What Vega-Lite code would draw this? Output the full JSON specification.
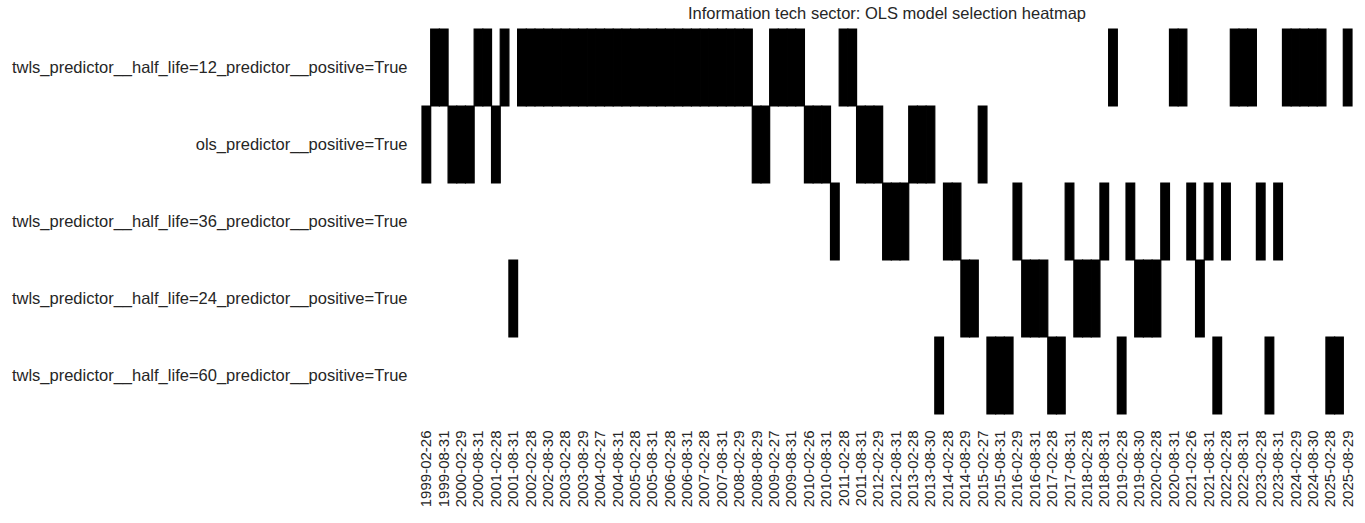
{
  "$schema": "https://vega.github.io/schema/vega-lite/v6.json",
  "autosize": "none",
  "padding": {"left": 422, "top": 29, "right": 13, "bottom": 109},
  "width": 930,
  "height": 385,
  "background": "white",
  "title": {
    "text": "Information tech sector: OLS model selection heatmap",
    "font": "Liberation Sans",
    "fontSize": 16.5,
    "fontWeight": "normal",
    "color": "#262626",
    "anchor": "middle",
    "offset": 6
  },
  "datasets": {
    "models": [
      {"m": "A", "model": "twls_predictor__half_life=12_predictor__positive=True"},
      {"m": "B", "model": "ols_predictor__positive=True"},
      {"m": "C", "model": "twls_predictor__half_life=36_predictor__positive=True"},
      {"m": "D", "model": "twls_predictor__half_life=24_predictor__positive=True"},
      {"m": "E", "model": "twls_predictor__half_life=60_predictor__positive=True"}
    ]
  },
  "data": {
    "values": [
      {"date": "1999-02-26", "m": "B"},
      {"date": "1999-05-31", "m": "A"},
      {"date": "1999-08-31", "m": "A"},
      {"date": "1999-11-30", "m": "B"},
      {"date": "2000-02-29", "m": "B"},
      {"date": "2000-05-31", "m": "B"},
      {"date": "2000-08-31", "m": "A"},
      {"date": "2000-11-30", "m": "A"},
      {"date": "2001-02-28", "m": "B"},
      {"date": "2001-05-31", "m": "A"},
      {"date": "2001-08-31", "m": "D"},
      {"date": "2001-11-30", "m": "A"},
      {"date": "2002-02-28", "m": "A"},
      {"date": "2002-05-31", "m": "A"},
      {"date": "2002-08-30", "m": "A"},
      {"date": "2002-11-29", "m": "A"},
      {"date": "2003-02-28", "m": "A"},
      {"date": "2003-05-30", "m": "A"},
      {"date": "2003-08-29", "m": "A"},
      {"date": "2003-11-28", "m": "A"},
      {"date": "2004-02-27", "m": "A"},
      {"date": "2004-05-31", "m": "A"},
      {"date": "2004-08-31", "m": "A"},
      {"date": "2004-11-30", "m": "A"},
      {"date": "2005-02-28", "m": "A"},
      {"date": "2005-05-31", "m": "A"},
      {"date": "2005-08-31", "m": "A"},
      {"date": "2005-11-30", "m": "A"},
      {"date": "2006-02-28", "m": "A"},
      {"date": "2006-05-31", "m": "A"},
      {"date": "2006-08-31", "m": "A"},
      {"date": "2006-11-30", "m": "A"},
      {"date": "2007-02-28", "m": "A"},
      {"date": "2007-05-31", "m": "A"},
      {"date": "2007-08-31", "m": "A"},
      {"date": "2007-11-30", "m": "A"},
      {"date": "2008-02-29", "m": "A"},
      {"date": "2008-05-30", "m": "A"},
      {"date": "2008-08-29", "m": "B"},
      {"date": "2008-11-28", "m": "B"},
      {"date": "2009-02-27", "m": "A"},
      {"date": "2009-05-29", "m": "A"},
      {"date": "2009-08-31", "m": "A"},
      {"date": "2009-11-30", "m": "A"},
      {"date": "2010-02-26", "m": "B"},
      {"date": "2010-05-31", "m": "B"},
      {"date": "2010-08-31", "m": "B"},
      {"date": "2010-11-30", "m": "C"},
      {"date": "2011-02-28", "m": "A"},
      {"date": "2011-05-31", "m": "A"},
      {"date": "2011-08-31", "m": "B"},
      {"date": "2011-11-30", "m": "B"},
      {"date": "2012-02-29", "m": "B"},
      {"date": "2012-05-31", "m": "C"},
      {"date": "2012-08-31", "m": "C"},
      {"date": "2012-11-30", "m": "C"},
      {"date": "2013-02-28", "m": "B"},
      {"date": "2013-05-31", "m": "B"},
      {"date": "2013-08-30", "m": "B"},
      {"date": "2013-11-29", "m": "E"},
      {"date": "2014-02-28", "m": "C"},
      {"date": "2014-05-30", "m": "C"},
      {"date": "2014-08-29", "m": "D"},
      {"date": "2014-11-28", "m": "D"},
      {"date": "2015-02-27", "m": "B"},
      {"date": "2015-05-29", "m": "E"},
      {"date": "2015-08-31", "m": "E"},
      {"date": "2015-11-30", "m": "E"},
      {"date": "2016-02-29", "m": "C"},
      {"date": "2016-05-31", "m": "D"},
      {"date": "2016-08-31", "m": "D"},
      {"date": "2016-11-30", "m": "D"},
      {"date": "2017-02-28", "m": "E"},
      {"date": "2017-05-31", "m": "E"},
      {"date": "2017-08-31", "m": "C"},
      {"date": "2017-11-30", "m": "D"},
      {"date": "2018-02-28", "m": "D"},
      {"date": "2018-05-31", "m": "D"},
      {"date": "2018-08-31", "m": "C"},
      {"date": "2018-11-30", "m": "A"},
      {"date": "2019-02-28", "m": "E"},
      {"date": "2019-05-31", "m": "C"},
      {"date": "2019-08-30", "m": "D"},
      {"date": "2019-11-29", "m": "D"},
      {"date": "2020-02-28", "m": "D"},
      {"date": "2020-05-29", "m": "C"},
      {"date": "2020-08-31", "m": "A"},
      {"date": "2020-11-30", "m": "A"},
      {"date": "2021-02-26", "m": "C"},
      {"date": "2021-05-31", "m": "D"},
      {"date": "2021-08-31", "m": "C"},
      {"date": "2021-11-30", "m": "E"},
      {"date": "2022-02-28", "m": "C"},
      {"date": "2022-05-31", "m": "A"},
      {"date": "2022-08-31", "m": "A"},
      {"date": "2022-11-30", "m": "A"},
      {"date": "2023-02-28", "m": "C"},
      {"date": "2023-05-31", "m": "E"},
      {"date": "2023-08-31", "m": "C"},
      {"date": "2023-11-30", "m": "A"},
      {"date": "2024-02-29", "m": "A"},
      {"date": "2024-05-31", "m": "A"},
      {"date": "2024-08-30", "m": "A"},
      {"date": "2024-11-29", "m": "A"},
      {"date": "2025-02-28", "m": "E"},
      {"date": "2025-05-30", "m": "E"},
      {"date": "2025-08-29", "m": "A"}
    ]
  },
  "transform": [
    {"lookup": "m", "from": {"data": {"name": "models"}, "key": "m", "fields": ["model"]}}
  ],
  "mark": {"type": "rect", "color": "black", "stroke": "black", "strokeWidth": 1.2},
  "encoding": {
    "x": {
      "field": "date",
      "type": "ordinal",
      "sort": "ascending",
      "scale": {"paddingInner": 0, "paddingOuter": 0},
      "axis": {
        "title": null,
        "labelAngle": -90,
        "labelPadding": 16,
        "labelFontSize": 15,
        "values": ["1999-02-26", "1999-08-31", "2000-02-29", "2000-08-31", "2001-02-28", "2001-08-31", "2002-02-28", "2002-08-30", "2003-02-28", "2003-08-29", "2004-02-27", "2004-08-31", "2005-02-28", "2005-08-31", "2006-02-28", "2006-08-31", "2007-02-28", "2007-08-31", "2008-02-29", "2008-08-29", "2009-02-27", "2009-08-31", "2010-02-26", "2010-08-31", "2011-02-28", "2011-08-31", "2012-02-29", "2012-08-31", "2013-02-28", "2013-08-30", "2014-02-28", "2014-08-29", "2015-02-27", "2015-08-31", "2016-02-29", "2016-08-31", "2017-02-28", "2017-08-31", "2018-02-28", "2018-08-31", "2019-02-28", "2019-08-30", "2020-02-28", "2020-08-31", "2021-02-26", "2021-08-31", "2022-02-28", "2022-08-31", "2023-02-28", "2023-08-31", "2024-02-29", "2024-08-30", "2025-02-28", "2025-08-29"]
      }
    },
    "y": {
      "field": "model",
      "type": "ordinal",
      "sort": [
        "twls_predictor__half_life=12_predictor__positive=True",
        "ols_predictor__positive=True",
        "twls_predictor__half_life=36_predictor__positive=True",
        "twls_predictor__half_life=24_predictor__positive=True",
        "twls_predictor__half_life=60_predictor__positive=True"
      ],
      "scale": {"paddingInner": 0, "paddingOuter": 0},
      "axis": {"title": null, "labelPadding": 15, "labelLimit": 1000}
    }
  },
  "config": {
    "view": {"stroke": null},
    "axis": {
      "domain": false,
      "ticks": false,
      "grid": false,
      "labelFont": "Liberation Sans",
      "labelFontSize": 16.5,
      "labelColor": "#262626"
    }
  }
}
